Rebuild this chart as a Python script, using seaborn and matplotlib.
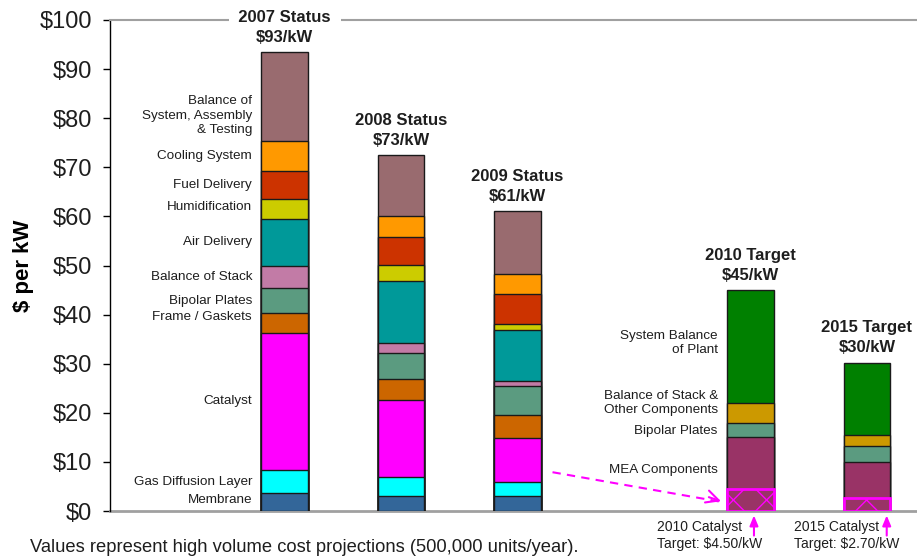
import numpy as np
import pandas as pd
import matplotlib
matplotlib.use("Agg")
import matplotlib.pyplot as plt
import seaborn as sns

# ---------------- data ----------------
status_titles = ["2007 Status", "2008 Status", "2009 Status"]
status_totals = ["$93/kW", "$73/kW", "$61/kW"]
status_x = [0, 1, 2]
status_components = ["Membrane", "Gas Diffusion Layer", "Catalyst", "Frame / Gaskets",
                     "Bipolar Plates", "Balance of Stack", "Air Delivery", "Humidification",
                     "Fuel Delivery", "Cooling System", "Balance of\nSystem, Assembly\n& Testing"]
membrane = [3.6, 3.1, 3.1]
gas_diffusion = [4.8, 3.9, 2.9]
catalyst = [27.9, 15.6, 8.8]
frame_gaskets = [4.0, 4.3, 4.8]
bipolar_plates = [5.1, 5.3, 5.9]
balance_of_stack = [4.5, 2.0, 0.9]
air_delivery = [9.6, 12.6, 10.5]
humidification = [4.0, 3.3, 1.1]
fuel_delivery = [5.7, 5.8, 6.1]
cooling_system = [6.2, 4.2, 4.2]
bos_assembly = [18.0, 12.4, 12.7]

target_titles = ["2010 Target", "2015 Target"]
target_totals = ["$45/kW", "$30/kW"]
target_x = [4, 5]
target_components = ["MEA Components", "Bipolar Plates",
                     "Balance of Stack &\nOther Components", "System Balance\nof Plant"]
mea_components = [15.0, 10.0]
t_bipolar_plates = [3.0, 3.2]
t_balance_other = [4.0, 2.2]
system_bop = [23.0, 14.8]
catalyst_target = [4.5, 2.7]
catalyst_notes = ["2010 Catalyst\nTarget: $4.50/kW", "2015 Catalyst\nTarget: $2.70/kW"]

yticks = [0, 10, 20, 30, 40, 50, 60, 70, 80, 90, 100]
ylabel = "$ per kW"
footnote = "Values represent high volume cost projections (500,000 units/year)."

# ---------------- style ----------------
status_colors = ["#336699", "#00FFFF", "#FF00FF", "#CC6600", "#5B9B80", "#C27BA6",
                 "#009999", "#CCCC00", "#CC3300", "#FF9900", "#996B6F"]
target_colors = ["#993366", "#5B9B80", "#CC9900", "#008000"]
MAG = "#FF00FF"
TXT = "#1e1e1e"

sns.set_style("white")
plt.rcParams["font.family"] = ["Liberation Sans", "DejaVu Sans"]
plt.rcParams["hatch.linewidth"] = 1.0

fig = plt.figure(figsize=(9.17, 5.58), dpi=100)
ax = fig.add_axes([110 / 917, 47 / 558, 807 / 917, 491 / 558])

def stacked(xs, layers, colors):
    cum = np.cumsum(np.array(layers, dtype=float), axis=0)
    for i in range(len(layers) - 1, -1, -1):
        df = pd.DataFrame({"x": xs, "y": cum[i]})
        sns.barplot(data=df, x="x", y="y", native_scale=True, orient="x", width=0.4,
                    color=colors[i], saturation=1, edgecolor="#1a1a1a", linewidth=1.0,
                    errorbar=None, ax=ax, zorder=2)
    return cum

s_layers = [membrane, gas_diffusion, catalyst, frame_gaskets, bipolar_plates, balance_of_stack,
            air_delivery, humidification, fuel_delivery, cooling_system, bos_assembly]
t_layers = [mea_components, t_bipolar_plates, t_balance_other, system_bop]
s_cum = stacked(status_x, s_layers, status_colors)
t_cum = stacked(target_x, t_layers, target_colors)

# catalyst target overlay
ax.bar(target_x, catalyst_target, width=0.4, facecolor="none", edgecolor=MAG,
       linewidth=2.0, hatch="x", zorder=3)

# titles above bars
for x, t1, t2, top in list(zip(status_x, status_titles, status_totals, s_cum[-1])) + \
        list(zip(target_x, target_titles, target_totals, t_cum[-1])):
    ax.annotate(t2, (x, top), xytext=(0, 15), textcoords="offset pixels", ha="center",
                va="center", fontsize=12, fontweight="bold", color=TXT, annotation_clip=False)
    if top > 90:
        bb = dict(facecolor="white", edgecolor="none", pad=0.5)
        t1 = "  " + t1 + "  "
    else:
        bb = None
    ax.annotate(t1, (x, top), xytext=(0, 35), textcoords="offset pixels", ha="center",
                va="center", fontsize=12, fontweight="bold", color=TXT, bbox=bb,
                annotation_clip=False, zorder=5)

# component labels (first status bar)
nudge = {0: 0.4, 3: 1.3, 7: 0.5, 10: -3.9}
lower = np.concatenate([[0], s_cum[:-1, 0]])
for i, name in enumerate(status_components):
    yc = (lower[i] + s_cum[i, 0]) / 2 + nudge.get(i, 0)
    ax.text(status_x[0] - 0.28, yc, name, ha="right", va="center", fontsize=9.7,
            color=TXT, linespacing=1.25)

t_lower = np.concatenate([[0], t_cum[:-1, 0]])
t_nudge = {0: 0.9, 1: -0.3, 2: 2.0, 3: 0.7}
for i, name in enumerate(target_components):
    yc = (t_lower[i] + t_cum[i, 0]) / 2 + t_nudge.get(i, 0)
    ax.text(target_x[0] - 0.28, yc, name, ha="right", va="center", fontsize=9.7,
            color=TXT, linespacing=1.25)

# dashed arrow from catalyst to 2010 target
ax.plot([2.30, 3.74], [7.9, 1.9], color=MAG, linestyle=(0, (4, 3)), linewidth=1.5, zorder=4)
ax.annotate("", xy=(3.77, 1.8), xytext=(3.62, 3.0),
            arrowprops=dict(arrowstyle="->,head_length=0.9,head_width=0.45", color=MAG, lw=1.5),
            zorder=4)

# catalyst notes with up arrows
note_x = [3.20, 4.37]
arrow_x = [4.03, 5.17]
for nx, axx, note in zip(note_x, arrow_x, catalyst_notes):
    ax.annotate("", xy=(axx, -0.9), xytext=(axx, -5.0),
                arrowprops=dict(arrowstyle="-|>,head_length=0.6,head_width=0.25", color=MAG,
                                lw=1.5, shrinkA=0, shrinkB=0),
                annotation_clip=False)
    ax.text(nx, -5.0, note, ha="left", va="center", fontsize=10, color=TXT,
            linespacing=1.2, clip_on=False)

# axes
ax.set_xlim(-1.5, 5.43)
ax.set_ylim(0, 100)
ax.set_xticks([])
ax.set_yticks(yticks)
ax.set_yticklabels([f"${v}" for v in yticks])
ax.tick_params(axis="y", length=5, width=1, color="black", labelsize=17, labelcolor=TXT,
               pad=8, left=True)
ax.set_xlabel("")
ax.set_ylabel(ylabel, fontsize=16, fontweight="bold", color="black")
ax.yaxis.set_label_coords(-0.094, 0.5)
ax.spines["right"].set_visible(False)
for s in ["top", "bottom", "left"]:
    ax.spines[s].set_visible(True)
ax.spines["left"].set_color("black")
ax.spines["left"].set_linewidth(1.0)
ax.spines["top"].set_color("#A0A0A0")
ax.spines["top"].set_linewidth(1.5)
ax.spines["bottom"].set_color("#A0A0A0")
ax.spines["bottom"].set_linewidth(2.0)
ax.spines["bottom"].set_zorder(1)

fig.text(30 / 917, 1 - 548 / 558, footnote, ha="left", va="center", fontsize=13.2, color=TXT)

fig.savefig("out.png", dpi=100)
